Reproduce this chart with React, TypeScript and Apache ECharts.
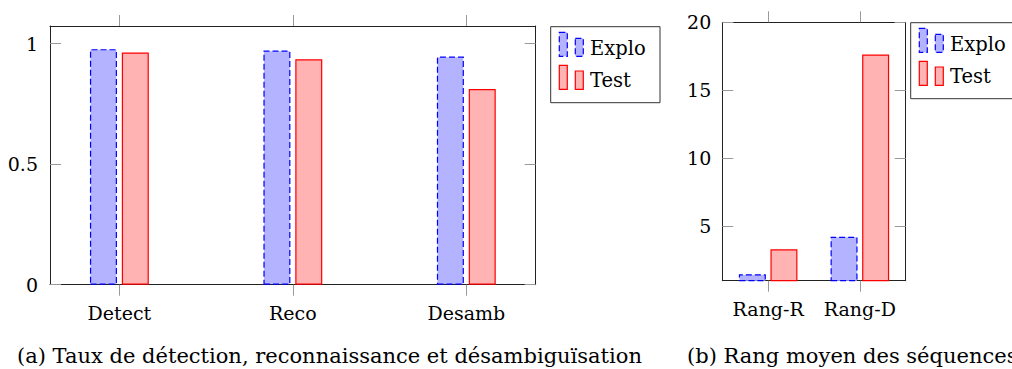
import React, { useEffect, useRef } from "react";
import * as echarts from "echarts";

const rateCategories = ["Detect", "Reco", "Desamb"];
const exploRates = [0.977, 0.971, 0.946];
const testRates = [0.963, 0.935, 0.812];
const rateTicks = [0, 0.5, 1];

const rankCategories = ["Rang-R", "Rang-D"];
const exploRanks = [1.44, 4.21];
const testRanks = [3.29, 17.63];
const rankTicks = [5, 10, 15, 20];

const seriesNames = ["Explo", "Test"];
const captionA = "(a) Taux de détection, reconnaissance et désambiguïsation";
const captionB = "(b) Rang moyen des séquences";

const FONT = "DejaVu Serif";
const BLUE_FILL = "#b3b3ff";
const BLUE_LINE = "#0000ff";
const RED_FILL = "#ffb3b3";
const RED_LINE = "#ff0000";
const FRAME = "#222";
const TICK = "#999";
const DASH = [6, 3];

function txt(x: number, y: number, text: string, size: number) {
  return {
    type: "text",
    x,
    y,
    style: {
      text,
      fontFamily: FONT,
      fontSize: size,
      fill: "#000",
      verticalAlign: "middle",
      align: "left",
    },
  };
}

function legendGraphic(left: number, top: number) {
  const w = 109.3;
  return [
    {
      type: "rect",
      shape: { x: left, y: top, width: w, height: 76 },
      style: { fill: "#fff", stroke: "#333", lineWidth: 1 },
    },
    {
      type: "rect",
      shape: { x: left + 8.6, y: top + 5.6, width: 8, height: 24 },
      style: { fill: BLUE_FILL, stroke: BLUE_LINE, lineWidth: 1.2, lineDash: DASH },
    },
    {
      type: "rect",
      shape: { x: left + 24.6, y: top + 11.6, width: 8, height: 18 },
      style: { fill: BLUE_FILL, stroke: BLUE_LINE, lineWidth: 1.2, lineDash: DASH },
    },
    txt(left + 39.3, top + 29 - 7, seriesNames[0], 19.5),
    {
      type: "rect",
      shape: { x: left + 8.6, y: top + 38.6, width: 8, height: 24 },
      style: { fill: RED_FILL, stroke: RED_LINE, lineWidth: 1.2 },
    },
    {
      type: "rect",
      shape: { x: left + 24.6, y: top + 44.3, width: 8, height: 18.3 },
      style: { fill: RED_FILL, stroke: RED_LINE, lineWidth: 1.2 },
    },
    txt(left + 39.3, top + 60.6 - 7, seriesNames[1], 19.5),
  ];
}

export default function App() {
  const ref = useRef<HTMLDivElement>(null);
  useEffect(() => {
    if (!ref.current) return;
    const chart = echarts.init(ref.current, null, { renderer: "svg" });
    const labelStyle = { color: "#000", fontFamily: FONT, fontSize: 19 };
    const frameLine = { show: true, onZero: false, lineStyle: { color: FRAME, width: 1 } };
    const xTick = { show: true, inside: false, length: 11, lineStyle: { color: TICK, width: 1 } };
    const yTick = { show: true, inside: true, length: 11, lineStyle: { color: TICK, width: 1 } };

    const option: any = {
      animation: false,
      backgroundColor: "#fff",
      textStyle: { fontFamily: FONT },
      grid: [
        { left: 50, top: 26, width: 485.7, height: 258.7, containLabel: false },
        { left: 722.3, top: 22.3, width: 183.4, height: 258.4, containLabel: false },
      ],
      xAxis: [
        {
          type: "value",
          gridIndex: 0,
          position: "bottom",
          min: -0.4,
          max: 2.4,
          axisLine: frameLine,
          axisTick: { ...xTick, customValues: [0, 1, 2] },
          axisLabel: {
            ...labelStyle,
            margin: 19,
            customValues: [0, 1, 2],
            formatter: (v: number) => rateCategories[Math.round(v)] ?? "",
          },
          splitLine: { show: false },
        },
        {
          type: "value",
          gridIndex: 0,
          position: "top",
          min: -0.4,
          max: 2.4,
          axisLine: frameLine,
          axisTick: { ...xTick, customValues: [0, 1, 2] },
          axisLabel: { show: false },
          splitLine: { show: false },
        },
        {
          type: "category",
          gridIndex: 1,
          position: "bottom",
          data: rankCategories,
          boundaryGap: true,
          axisLine: frameLine,
          axisTick: { ...xTick, alignWithLabel: true, interval: 0 },
          axisLabel: { ...labelStyle, margin: 19, interval: 0, hideOverlap: false },
          splitLine: { show: false },
        },
        {
          type: "category",
          gridIndex: 1,
          position: "top",
          data: rankCategories,
          boundaryGap: true,
          axisLine: frameLine,
          axisTick: { ...xTick, alignWithLabel: true, interval: 0 },
          axisLabel: { show: false },
          splitLine: { show: false },
        },
      ],
      yAxis: [
        {
          type: "value",
          gridIndex: 0,
          position: "left",
          min: 0,
          max: 1.073,
          axisLine: frameLine,
          axisTick: { ...yTick, customValues: rateTicks },
          axisLabel: { ...labelStyle, margin: 12, customValues: rateTicks },
          splitLine: { show: false },
        },
        {
          type: "value",
          gridIndex: 0,
          position: "right",
          min: 0,
          max: 1.073,
          axisLine: frameLine,
          axisTick: { ...yTick, customValues: rateTicks },
          axisLabel: { show: false },
          splitLine: { show: false },
        },
        {
          type: "value",
          gridIndex: 1,
          position: "left",
          min: 0.97,
          max: 20,
          axisLine: frameLine,
          axisTick: { ...yTick, customValues: rankTicks },
          axisLabel: { ...labelStyle, margin: 11, customValues: rankTicks },
          splitLine: { show: false },
        },
        {
          type: "value",
          gridIndex: 1,
          position: "right",
          min: 0.97,
          max: 20,
          axisLine: frameLine,
          axisTick: { ...yTick, customValues: rankTicks },
          axisLabel: { show: false },
          splitLine: { show: false },
        },
      ],
      series: [
        {
          name: seriesNames[0],
          type: "bar",
          xAxisIndex: 0,
          yAxisIndex: 0,
          data: exploRates.map((v, i) => [i, v]),
          barWidth: 27,
          barGap: "18%",
          itemStyle: { color: BLUE_FILL, borderColor: BLUE_LINE, borderWidth: 1.2, borderType: DASH },
        },
        {
          name: seriesNames[1],
          type: "bar",
          xAxisIndex: 0,
          yAxisIndex: 0,
          data: testRates.map((v, i) => [i, v]),
          barWidth: 27,
          barGap: "18%",
          itemStyle: { color: RED_FILL, borderColor: RED_LINE, borderWidth: 1.2 },
        },
        {
          name: seriesNames[0],
          type: "bar",
          xAxisIndex: 2,
          yAxisIndex: 2,
          data: exploRanks,
          barWidth: 27,
          barGap: "17%",
          clip: true,
          itemStyle: { color: BLUE_FILL, borderColor: BLUE_LINE, borderWidth: 1.2, borderType: DASH },
        },
        {
          name: seriesNames[1],
          type: "bar",
          xAxisIndex: 2,
          yAxisIndex: 2,
          data: testRanks,
          barWidth: 27,
          barGap: "17%",
          clip: true,
          itemStyle: { color: RED_FILL, borderColor: RED_LINE, borderWidth: 1.2 },
        },
      ],
      graphic: [
        ...legendGraphic(550.7, 26.7),
        ...legendGraphic(910.7, 22.7),
        txt(17, 356, captionA, 21),
        txt(687, 356, captionB, 21),
      ],
    };
    chart.setOption(option);
    return () => chart.dispose();
  }, []);
  return (
    <div
      ref={ref}
      style={{ position: "absolute", left: 0, top: 0, width: 1012, height: 369, background: "#fff" }}
    />
  );
}
